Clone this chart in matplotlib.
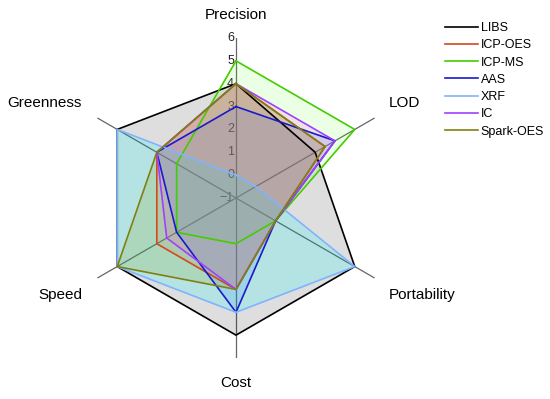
import numpy as np
import matplotlib
matplotlib.use('Agg')
import matplotlib.pyplot as plt
from matplotlib.transforms import offset_copy

plt.rcParams['font.family'] = ['Liberation Sans', 'DejaVu Sans']

# Оси (по часовой стрелке, начиная сверху)
categories = ['Precision', 'LOD', 'Portability', 'Cost', 'Speed', 'Greenness']

# Оценки методов
libs = [4, 3, 5, 5, 5, 5]
icp_oes = [4, 3.5, 1, 3, 3, 3]
icp_ms = [5, 5, 1, 1, 2, 2]
aas = [3, 4, 1, 4, 2, 3]
xrf = [0, 0, 5, 4, 5, 5]
ic = [4, 4, 1, 3, 2.5, 3]
spark_oes = [4, 3.5, 1, 3, 5, 3]

series_names = ['LIBS', 'ICP-OES', 'ICP-MS', 'AAS', 'XRF', 'IC', 'Spark-OES']
series_values = [libs, icp_oes, icp_ms, aas, xrf, ic, spark_oes]
r_ticks = [-1, 0, 1, 2, 3, 4, 5, 6]

line_colors = ['black', '#d04a1a', '#44cc00', '#1a1acc', '#80b3ff', '#a040ff', '#808010']
fill_colors = ['black', '#ff6666', '#66ff33', '#3366ff', '#00ffff', '#ff33ff', '#80a000']
fill_alpha = [0.13, 0.18, 0.13, 0.17, 0.18, 0.14, 0.17]

n = len(categories)
angles = np.pi / 2 - np.arange(n) * 2 * np.pi / n
angles_closed = np.append(angles, angles[0])

fig = plt.figure(figsize=(5.5, 3.99), dpi=100)
ax = fig.add_axes([76 / 550, 41 / 399, 320 / 550, 320 / 399], polar=True)
ax.set_ylim(-1, 6)

handles = []
for name, vals, lc, fc, a in zip(series_names, series_values, line_colors, fill_colors, fill_alpha):
    v = np.append(vals, vals[0])
    ax.fill(angles_closed, v, color=fc, alpha=a, zorder=2, lw=0)
    h, = ax.plot(angles_closed, v, color=lc, lw=1.2, zorder=3, label=name)
    handles.append(h)

# Спицы
for ang in angles:
    ax.plot([ang, ang], [-1, 6], color='#666666', lw=0.9, zorder=1)

ax.grid(False)
ax.spines['polar'].set_visible(False)
ax.set_xticks([])
ax.set_yticks([])

# Подписи радиальной шкалы вдоль оси Precision
tr = offset_copy(ax.transData, fig=fig, x=-2, y=0, units='dots')
for t in r_ticks:
    lab = str(t).replace('-', '\u2212')
    ax.text(np.pi / 2, t, lab, transform=tr, ha='right', va='center',
            fontsize=9, color='#222222', zorder=0.5)

# Подписи осей
fs = 11
ax.text(0.5, 1.072, 'Precision', transform=ax.transAxes, ha='center', va='center', fontsize=fs)
ax.text(0.978, 0.797, 'LOD', transform=ax.transAxes, ha='left', va='center', fontsize=fs)
ax.text(0.978, 0.197, 'Portability', transform=ax.transAxes, ha='left', va='center', fontsize=fs)
ax.text(0.5, -0.078, 'Cost', transform=ax.transAxes, ha='center', va='center', fontsize=fs)
ax.text(0.019, 0.197, 'Speed', transform=ax.transAxes, ha='right', va='center', fontsize=fs)
ax.text(0.019, 0.797, 'Greenness', transform=ax.transAxes, ha='right', va='center', fontsize=fs)

fig.legend(handles=handles, loc='upper left', bbox_to_anchor=(445 / 550, 1 - 22 / 399),
           frameon=False, fontsize=9, handlelength=2.6, handletextpad=0.25,
           labelspacing=0.42, borderpad=0, borderaxespad=0)

fig.savefig('out.png', dpi=100)
